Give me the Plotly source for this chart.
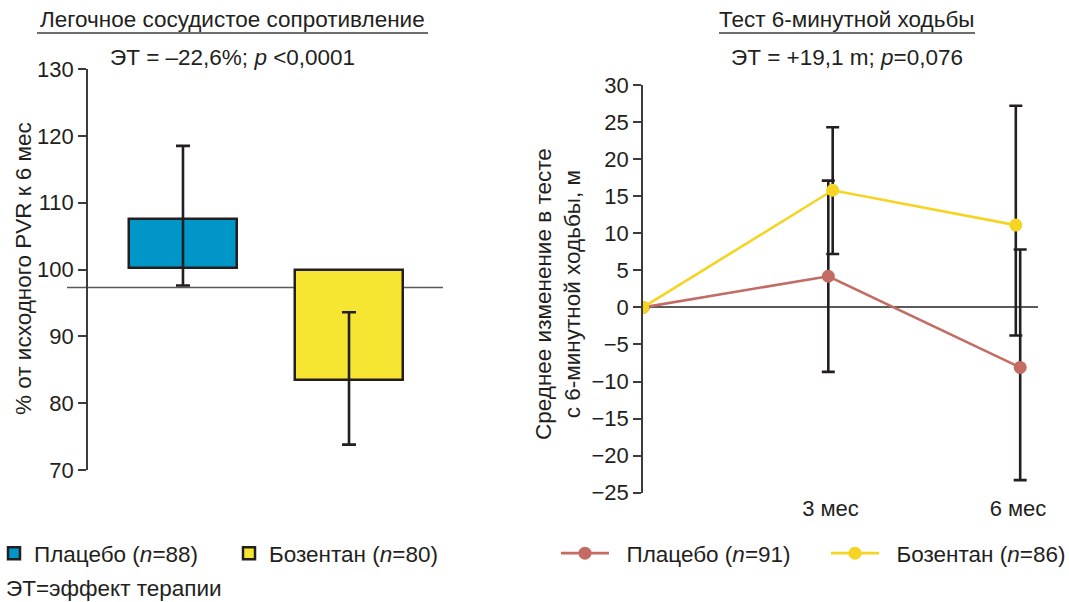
import plotly.graph_objects as go

W, H = 1069, 602
FONT = "Liberation Sans, Arial, sans-serif"
INK = "#231F20"
AXIS = "#3C3C3C"
TEXT_SIZE = 22.5
TICK_SIZE = 22

# --- Left panel: pulmonary vascular resistance, % of baseline at 6 months ---
pvr_groups = ["Плацебо (<i>n</i>=88)", "Бозентан (<i>n</i>=80)"]
pvr_start = [100.3, 100.0]      # where each floating bar begins
pvr_mean = [107.5, 83.5]        # group mean (bar end, error bar centre)
pvr_upper = [118.5, 93.6]
pvr_lower = [97.6, 73.8]
pvr_reference = 97.3            # horizontal reference line
pvr_colors = ["#0096C8", "#F6E631"]
pvr_ticks = [70, 80, 90, 100, 110, 120, 130]

# --- Right panel: change in 6-minute walk distance, m ---
months = [0, 3, 6]
month_labels = ["3 мес", "6 мес"]
walk_placebo = [0.0, 4.2, -8.1]
walk_placebo_hi = [0.0, 17.1, 7.8]
walk_placebo_lo = [0.0, -8.7, -23.3]
walk_bosentan = [0.0, 15.8, 11.1]
walk_bosentan_hi = [0.0, 24.3, 27.2]
walk_bosentan_lo = [0.0, 7.2, -3.8]
walk_names = ["Плацебо (<i>n</i>=91)", "Бозентан (<i>n</i>=86)"]
walk_colors = ["#C46B63", "#F5D423"]
walk_ticks = [30, 25, 20, 15, 10, 5, 0, -5, -10, -15, -20, -25]


def px_x(v):
    return v / W


def px_y(v):
    return 1 - v / H


fig = go.Figure()

# floating bars with error bars at the mean
for i, name in enumerate(pvr_groups):
    fig.add_trace(go.Bar(
        x=[i], y=[pvr_mean[i] - pvr_start[i]], base=[pvr_start[i]],
        width=0.65, name=name, legend="legend",
        marker=dict(color=pvr_colors[i], line=dict(color=INK, width=2.5)),
        error_y=dict(type="data", symmetric=False,
                     array=[pvr_upper[i] - pvr_mean[i]],
                     arrayminus=[pvr_mean[i] - pvr_lower[i]],
                     color=INK, thickness=2.6, width=7),
        xaxis="x", yaxis="y", hoverinfo="skip",
    ))

# walk-test lines; points slightly dodged so both error bars show
dodge = {0: [0, -0.035, 0.035], 1: [0, 0.035, -0.035]}
series = [
    (walk_placebo, walk_placebo_hi, walk_placebo_lo),
    (walk_bosentan, walk_bosentan_hi, walk_bosentan_lo),
]
for k, (vals, hi, lo) in enumerate(series):
    xs = [m + d for m, d in zip(months, dodge[k])]
    plus = [h - v for h, v in zip(hi, vals)]
    minus = [v - l for v, l in zip(vals, lo)]
    fig.add_trace(go.Scatter(
        x=xs, y=vals, mode="lines+markers",
        name="&nbsp;&nbsp;" + walk_names[k],
        legend="legend2",
        line=dict(color=walk_colors[k], width=2.6),
        marker=dict(color=walk_colors[k], size=13),
        error_y=dict(type="data", symmetric=False, array=plus,
                     arrayminus=minus, color=INK, thickness=2.6, width=6.5),
        xaxis="x2", yaxis="y2", hoverinfo="skip",
    ))

axis_common = dict(
    showline=True, linecolor=AXIS, linewidth=1.6,
    ticks="outside", ticklen=8, tickwidth=1.6, tickcolor=AXIS,
    showgrid=False,
    tickfont=dict(family=FONT, size=TICK_SIZE, color=INK),
)

fig.update_layout(
    width=W, height=H,
    margin=dict(l=0, r=0, t=0, b=0, autoexpand=False),
    paper_bgcolor="white", plot_bgcolor="white",
    font=dict(family=FONT, size=TEXT_SIZE, color=INK),
    showlegend=True,
    bargap=0,
    xaxis=dict(domain=[px_x(88), px_x(443)], range=[-0.572, 1.566],
               visible=False, fixedrange=True),
    yaxis=dict(domain=[px_y(470), px_y(69)], range=[70, 130],
               tickvals=pvr_ticks, zeroline=False, **axis_common),
    xaxis2=dict(domain=[px_x(643), px_x(1038)], range=[0, 6.32],
                tickvals=[3, 6], ticktext=month_labels,
                showline=False, ticks="", showgrid=False, zeroline=False,
                tickfont=dict(family=FONT, size=TICK_SIZE, color=INK),
                anchor="y2"),
    yaxis2=dict(domain=[px_y(492.7), px_y(85)], range=[-25, 30],
                tickvals=walk_ticks, anchor="x2",
                zeroline=True, zerolinecolor="#5A5A5A", zerolinewidth=1.6,
                **axis_common),
    legend=dict(orientation="h", x=px_x(-6), y=px_y(532), xanchor="left",
                yanchor="top", entrywidth=190, bgcolor="rgba(0,0,0,0)",
                font=dict(family=FONT, size=TEXT_SIZE, color=INK)),
    legend2=dict(orientation="h", x=px_x(556), y=px_y(532), xanchor="left",
                 yanchor="top", entrywidth=207, itemwidth=48,
                 bgcolor="rgba(0,0,0,0)",
                 font=dict(family=FONT, size=TEXT_SIZE, color=INK)),
)

shapes = [
    # reference line of the PVR panel, running past the axis on the left
    dict(type="line", xref="paper", yref="y", x0=px_x(67), x1=px_x(443),
         y0=pvr_reference, y1=pvr_reference,
         line=dict(color="#5A5A5A", width=1.6), layer="below"),
    # underlines of the panel headings
    dict(type="line", xref="paper", yref="paper", x0=px_x(37), x1=px_x(428),
         y0=px_y(33), y1=px_y(33), line=dict(color=AXIS, width=1.5)),
    dict(type="line", xref="paper", yref="paper", x0=px_x(719), x1=px_x(975),
         y0=px_y(33), y1=px_y(33), line=dict(color=AXIS, width=1.5)),
]
fig.update_layout(shapes=shapes)

annotations = [
    dict(text="Легочное сосудистое сопротивление", x=px_x(232.5), y=px_y(20)),
    dict(text="ЭТ = –22,6%; <i>p</i> &lt;0,0001", x=px_x(232), y=px_y(57)),
    dict(text="Тест 6-минутной ходьбы", x=px_x(847), y=px_y(20)),
    dict(text="ЭТ = +19,1 m; <i>p</i>=0,076", x=px_x(847), y=px_y(57)),
    dict(text="% от исходного PVR к 6 мес", x=px_x(23), y=px_y(269),
         textangle=-90),
    dict(text="Среднее изменение в тесте<br>с 6-минутной ходьбы, м",
         x=px_x(558), y=px_y(294), textangle=-90),
    dict(text="ЭТ=эффект терапии", x=px_x(4), y=px_y(588), xanchor="left"),
]
for a in annotations:
    a.setdefault("xanchor", "center")
    a.update(xref="paper", yref="paper", yanchor="middle", showarrow=False,
             font=dict(family=FONT, size=TEXT_SIZE, color=INK))
fig.update_layout(annotations=annotations)

fig.write_html("out.html")
